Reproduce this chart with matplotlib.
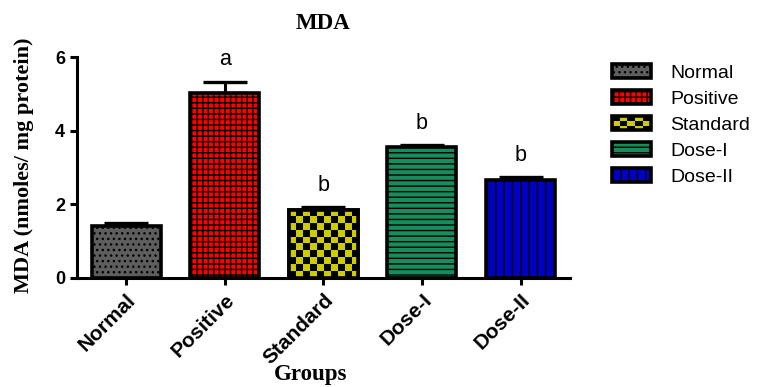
import numpy as np
import matplotlib
matplotlib.use('Agg')
import matplotlib.pyplot as plt
from matplotlib.patches import Rectangle, Patch
from matplotlib.legend_handler import HandlerPatch
from matplotlib.colors import ListedColormap

groups = ['Normal', 'Positive', 'Standard', 'Dose-I', 'Dose-II']
mda_mean = [1.42, 5.02, 1.85, 3.55, 2.67]
mda_sem = [0.06, 0.32, 0.07, 0.06, 0.07]
sig_letters = ['', 'a', 'b', 'b', 'b']
y_ticks = [0, 2, 4, 6]

face_colors = ['#5e5e5e', '#ff0000', '#cccc00', '#178c5c', '#0000c4']
hatches = ['...', '+++', None, '---', '||']

plt.rcParams['hatch.linewidth'] = 1.0
plt.rcParams['hatch.color'] = 'black'
SANS = 'Liberation Sans'
SERIF = 'Liberation Serif'

fig = plt.figure(figsize=(7.69, 3.87), dpi=100)
ax = fig.add_axes([0.100, 0.2825, 0.641, 0.5695])

x = np.arange(len(groups))
bar_w = 0.70
EDGE_LW = 2.6

bars = ax.bar(x, mda_mean, width=bar_w, color=face_colors, edgecolor='black',
              linewidth=EDGE_LW, zorder=2)
for b, h in zip(bars, hatches):
    if h:
        b.set_hatch(h)

ax.errorbar(x, mda_mean, yerr=[np.zeros(len(x)), mda_sem], fmt='none',
            ecolor='black', elinewidth=2.2, capsize=16, capthick=2.4, zorder=1.9)

ax.set_xlim(-0.5, 4.5)
ax.set_ylim(0, 6)

# checkerboard fill for the Standard bar
fig.canvas.draw()
bb = ax.get_window_extent()
px_per_x = bb.width / 5.0
px_per_y = bb.height / 6.0
cell_px = 6.9
std = 2
sb = bars[std]
cw = cell_px / px_per_x
ch = cell_px / px_per_y
nx = int(np.ceil(bar_w / cw))
ny = int(np.ceil(mda_mean[std] / ch)) + 1
grid = (np.add.outer(np.arange(ny), np.arange(nx)) % 2).astype(float)
cmap = ListedColormap(['black', face_colors[std]])
x0 = x[std] - bar_w / 2
im = ax.imshow(grid, cmap=cmap, origin='lower', interpolation='nearest',
               extent=(x0, x0 + nx * cw, 0, ny * ch), aspect='auto', zorder=2.05)
im.set_clip_path(sb)
ax.bar([x[std]], [mda_mean[std]], width=bar_w, fill=False, edgecolor='black',
       linewidth=EDGE_LW, zorder=2.1)
ax.set_xlim(-0.5, 4.5)
ax.set_ylim(0, 6)

for xi, m, s, t in zip(x, mda_mean, mda_sem, sig_letters):
    if t:
        ax.annotate(t, (xi, m + s), xytext=(0, 8), textcoords='offset points',
                    ha='center', va='bottom', fontsize=15.5, family=SANS)

for side in ('top', 'right'):
    ax.spines[side].set_visible(False)
for side in ('left', 'bottom'):
    ax.spines[side].set_linewidth(2.2)

ax.set_yticks(y_ticks)
ax.set_yticklabels([str(v) for v in y_ticks], fontsize=13, fontweight='bold', family=SANS)
ax.set_xticks(x)
ax.set_xticklabels(groups, fontsize=15, fontweight='bold', family=SANS,
                   rotation=45, ha='right', rotation_mode='anchor')
ax.tick_params(axis='both', direction='out', length=5, width=2.2)
ax.tick_params(axis='x', pad=4)

ax.set_title('MDA', fontsize=16.5, fontweight='bold', family=SERIF, pad=20)
ax.set_ylabel('MDA (nmoles/ mg protein)', fontsize=16, fontweight='bold', family=SERIF)
ax.yaxis.set_label_coords(-0.087, 0.51)
ax.set_xlabel('Groups', fontsize=16.5, fontweight='bold', family=SERIF)
ax.xaxis.set_label_coords(0.475, -0.39)


class CheckerHandler(HandlerPatch):
    def create_artists(self, legend, orig_handle, xdescent, ydescent, width, height,
                       fontsize, trans):
        x0, y0 = -xdescent, -ydescent
        arts = [Rectangle((x0, y0), width, height, facecolor='black',
                          edgecolor='none', transform=trans)]
        nxl, nyl = 5, 3
        cwl, chl = width / nxl, height / nyl
        for i in range(nxl):
            for j in range(nyl):
                if (i + j) % 2 == 1:
                    arts.append(Rectangle((x0 + i * cwl, y0 + j * chl), cwl, chl,
                                          facecolor=orig_handle.get_facecolor(),
                                          edgecolor='none', transform=trans))
        arts.append(Rectangle((x0, y0), width, height, fill=False, edgecolor='black',
                              linewidth=EDGE_LW, transform=trans))
        return arts


handles = []
handler_map = {}
for g, c, h in zip(groups, face_colors, hatches):
    p = Patch(facecolor=c, edgecolor='black', linewidth=EDGE_LW, hatch=h, label=g)
    handles.append(p)
    if h is None:
        handler_map[p] = CheckerHandler()

leg = fig.legend(handles=handles, handler_map=handler_map, loc='upper left',
                 bbox_to_anchor=(0.783, 0.86), frameon=False, borderpad=0,
                 handlelength=2.0, handleheight=0.75, labelspacing=0.42,
                 handletextpad=1.0, prop={'family': SANS, 'size': 14})

fig.savefig('out.png', dpi=100)
